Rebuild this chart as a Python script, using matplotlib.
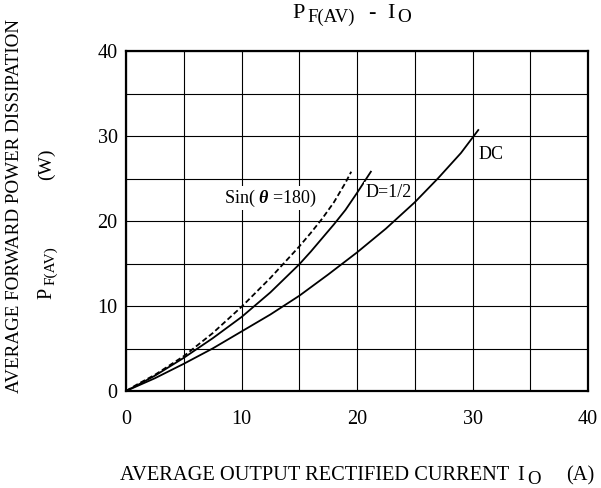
import numpy as np
import matplotlib.pyplot as plt

plt.rcParams['font.family'] = ['Liberation Serif', 'DejaVu Serif']
plt.rcParams['mathtext.fontset'] = 'custom'
plt.rcParams['mathtext.rm'] = 'Liberation Serif'
plt.rcParams['mathtext.it'] = 'Liberation Serif:italic'
plt.rcParams['mathtext.bf'] = 'Liberation Serif:bold:italic'

W, H = 601, 488

# curves (I_O in A, P_F(AV) in W)
sin_x = [0, 1, 2.5, 5, 7.5, 10, 12.5, 15, 16, 17, 18, 19, 19.5]
sin_y = [0, 0.8, 1.9, 4.1, 6.8, 9.9, 13.3, 17.0, 18.6, 20.3, 22.2, 24.5, 25.8]

half_x = [0, 1, 2.5, 5, 7.5, 10, 12.5, 15, 16, 17, 18, 19, 20, 21.2]
half_y = [0, 0.7, 1.8, 3.9, 6.2, 8.7, 11.6, 14.9, 16.4, 18.0, 19.6, 21.3, 23.3, 25.8]

dc_x = [0, 1, 2.5, 5, 7.5, 10, 12.5, 15, 17.5, 20, 22.5, 25, 27, 29, 30.5]
dc_y = [0, 0.6, 1.5, 3.2, 5.0, 7.0, 9.0, 11.2, 13.7, 16.3, 19.1, 22.2, 25.0, 28.0, 30.7]

xticks = [0, 10, 20, 30, 40]
yticks = [0, 10, 20, 30, 40]

fig = plt.figure(figsize=(W / 100, H / 100), dpi=100)
ax = fig.add_axes([126 / W, 1 - 391 / H, 462 / W, 340 / H])

ax.plot(sin_x, sin_y, color='black', lw=1.3, ls=(0, (3, 1.6)))
ax.plot(half_x, half_y, color='black', lw=1.3)
ax.plot(dc_x, dc_y, color='black', lw=1.3)

ax.set_xlim(0, 40)
ax.set_ylim(0, 40)
ax.set_xticks(np.arange(0, 41, 5), minor=True)
ax.set_yticks(np.arange(0, 41, 5), minor=True)
ax.set_xticks(xticks)
ax.set_yticks(yticks)
ax.grid(True, which='both', color='black', lw=0.8)
ax.tick_params(which='both', length=0, labelsize=14.5)
ax.tick_params(axis='x', pad=14)
ax.tick_params(axis='y', pad=6)
for s in ax.spines.values():
    s.set_linewidth(1.6)

box = dict(facecolor='white', edgecolor='none', pad=1)
ax.text(8.5, 22.7, r'Sin( $\mathbf{\theta}$ =180)', fontsize=13, va='center', ha='left', bbox=box)
ax.text(20.7, 23.4, 'D=1/2', fontsize=13, va='center', ha='left', bbox=box)
ax.text(30.5, 27.8, 'DC', fontsize=13, va='center', ha='left', bbox=box)


def ptext(x, y, s, size, **kw):
    # x, y in pixels from the top-left corner of the picture
    fig.text(x / W, 1 - y / H, s, fontsize=size, va='baseline', **kw)


# title  P_F(AV) - I_O
ptext(292.5, 18, 'P', 16)
ptext(307, 22, 'F(AV)', 13.5)
ptext(368, 18, '-', 16)
ptext(387, 18, 'I', 16)
ptext(397, 22, 'O', 13.7)

# x label
ptext(120, 480, 'AVERAGE OUTPUT RECTIFIED CURRENT', 14.7)
ptext(517, 480, 'I', 14.7)
ptext(527, 484, 'O', 13.5)
ptext(566, 480, '(A)', 14.7)

# y label, two rotated lines
fig.text(15 / W, 1 - 206 / H, 'AVERAGE FORWARD POWER DISSIPATION', fontsize=13.7,
         rotation=90, ha='center', va='center')
rot = dict(rotation=90, rotation_mode='anchor')
ptext(51, 299, 'P', 14.5, **rot)
ptext(54, 285, 'F(AV)', 11, **rot)
ptext(51, 180, '(W)', 14, **rot)

fig.savefig('out.png', dpi=100)
